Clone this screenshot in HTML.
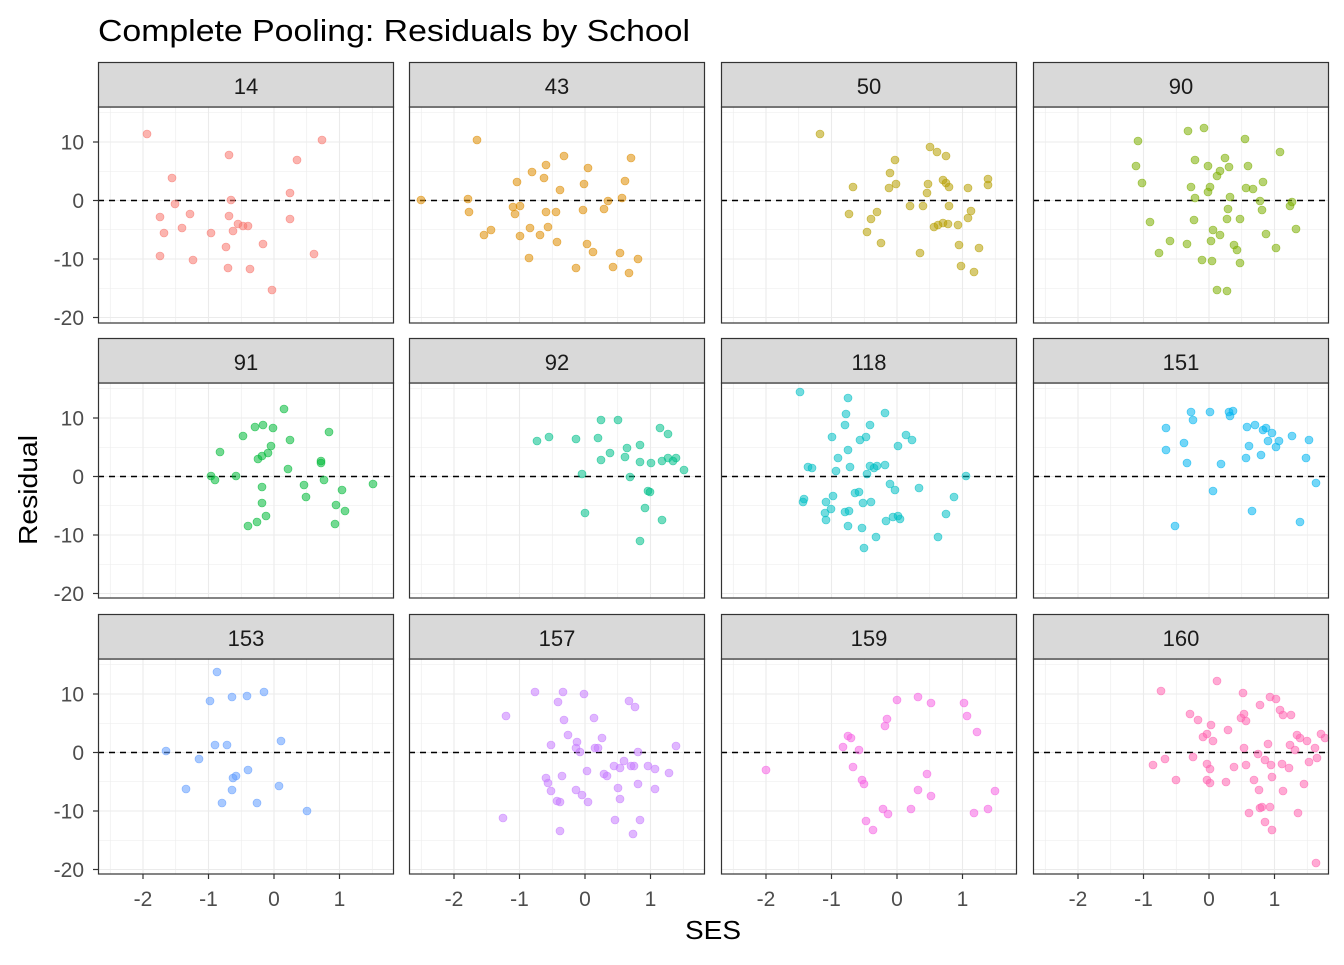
<!DOCTYPE html>
<html><head><meta charset="utf-8"><style>
html,body{margin:0;padding:0;background:#fff}
svg text{font-family:"Liberation Sans",Arial,sans-serif}
</style></head><body>
<svg id="s" width="1344" height="960" xmlns="http://www.w3.org/2000/svg">
<rect width="1344" height="960" fill="#fff"/>
<text x="98" y="41" font-size="31" fill="#000" textLength="592" lengthAdjust="spacingAndGlyphs">Complete Pooling: Residuals by School</text>
<text x="713" y="939" font-size="26" fill="#000" text-anchor="middle" textLength="56" lengthAdjust="spacingAndGlyphs">SES</text>
<text x="0" y="0" font-size="26" fill="#000" text-anchor="middle" transform="translate(37,490) rotate(-90)" textLength="110" lengthAdjust="spacingAndGlyphs">Residual</text>
<g id="g"></g>
</svg>
<script>
const NS="http://www.w3.org/2000/svg",g=document.getElementById('g');
function el(t,a,txt){const e=document.createElementNS(NS,t);for(const k in a)e.setAttribute(k,a[k]);if(txt!==undefined)e.textContent=txt;g.appendChild(e);return e;}
const cols=[98,409,721,1033],W=296;
const rows=[[62,107,323],[338,383,598],[614,659,874]];
const labels=["14","43","50","90","91","92","118","151","153","157","159","160"];
const colors=["#F8766D","#DE8C00","#B79F00","#7CAE00","#00BA38","#00C08B","#00BFC4","#00B4F0","#619CFF","#C77CFF","#F564E3","#FF64B0"];
const pts=[
[[147,134],[322,140],[229,155],[297,160],[172,178],[290,193],[231,200],[175,204],[160,217],[190,214],[229,216],[290,219],[238,224],[243,226],[248,226],[182,228],[164,233],[233,231],[211,233],[263,244],[226,247],[160,256],[193,260],[314,254],[228,268],[250,269],[272,290]],
[[477,140],[564,156],[631,158],[546,165],[532,172],[544,178],[588,168],[517,182],[625,181],[584,184],[560,190],[468,199],[421,200],[622,198],[513,207],[520,206],[608,201],[469,212],[515,214],[546,212],[556,212],[583,210],[604,209],[530,228],[491,230],[484,235],[520,236],[540,235],[548,227],[557,242],[587,244],[593,252],[620,253],[638,259],[529,258],[613,267],[576,268],[629,273]],
[[820,134],[930,147],[937,152],[946,156],[895,160],[890,173],[943,180],[946,183],[988,179],[988,185],[853,187],[896,184],[889,188],[928,184],[949,187],[968,188],[927,193],[910,206],[923,206],[949,206],[849,214],[877,212],[871,219],[971,211],[968,218],[943,223],[938,225],[948,224],[958,225],[934,227],[867,232],[881,243],[959,245],[979,248],[920,253],[961,266],[974,272]],
[[1204,128],[1188,131],[1138,141],[1245,139],[1280,152],[1225,158],[1195,160],[1248,166],[1208,166],[1229,167],[1136,166],[1220,171],[1217,176],[1142,183],[1191,187],[1210,187],[1246,188],[1253,189],[1263,182],[1208,192],[1230,197],[1195,198],[1260,201],[1292,202],[1290,206],[1228,209],[1227,219],[1262,210],[1150,222],[1194,220],[1240,219],[1213,230],[1220,235],[1266,234],[1296,229],[1211,241],[1170,241],[1187,244],[1234,245],[1237,250],[1276,248],[1159,253],[1202,260],[1212,261],[1240,263],[1217,290],[1227,291]],
[[284,409],[263,425],[255,427],[273,428],[329,432],[220,452],[290,440],[243,436],[271,446],[258,459],[262,456],[268,453],[321,461],[321,463],[211,476],[215,480],[236,476],[288,469],[324,480],[304,485],[262,487],[342,490],[373,484],[306,497],[336,505],[345,511],[266,516],[262,503],[257,522],[248,526],[335,524]],
[[601,420],[618,420],[549,437],[537,441],[576,439],[598,438],[660,428],[668,434],[640,445],[627,448],[610,453],[601,460],[625,457],[668,458],[673,461],[662,461],[651,463],[640,462],[684,470],[676,458],[582,474],[630,477],[648,491],[650,492],[645,508],[662,520],[585,513],[640,541]],
[[800,392],[848,398],[846,414],[885,413],[845,425],[870,425],[906,435],[912,440],[866,437],[832,437],[860,440],[898,446],[848,450],[838,458],[808,467],[812,468],[836,471],[850,467],[870,466],[874,468],[877,466],[885,465],[867,474],[966,476],[890,484],[919,488],[833,496],[855,493],[859,492],[895,490],[804,499],[803,502],[826,502],[863,503],[871,502],[849,511],[831,509],[845,512],[954,497],[893,517],[900,519],[862,528],[886,521],[826,520],[825,513],[898,516],[848,526],[876,537],[938,537],[864,548],[946,514]],
[[1175,526],[1191,412],[1229,412],[1233,411],[1230,416],[1210,412],[1247,427],[1255,425],[1266,428],[1272,433],[1263,430],[1268,441],[1279,441],[1292,436],[1309,440],[1166,428],[1184,443],[1193,420],[1166,450],[1249,446],[1261,455],[1246,458],[1276,447],[1306,458],[1187,463],[1221,464],[1316,483],[1213,491],[1252,511],[1300,522]],
[[217,672],[264,692],[210,701],[232,697],[247,696],[215,745],[227,745],[166,751],[281,741],[199,759],[236,776],[233,778],[248,770],[232,790],[186,789],[279,786],[222,803],[257,803],[307,811]],
[[535,692],[563,692],[584,694],[629,701],[635,707],[506,716],[558,702],[564,720],[594,718],[568,735],[577,742],[602,738],[551,745],[576,748],[595,748],[598,748],[580,752],[676,746],[638,752],[624,761],[614,766],[604,774],[607,776],[620,768],[631,766],[634,766],[648,766],[655,769],[669,773],[546,778],[562,776],[587,771],[548,783],[551,791],[576,790],[582,795],[618,788],[638,784],[655,789],[557,801],[560,802],[588,802],[620,799],[503,818],[560,831],[615,820],[640,820],[633,834]],
[[918,697],[897,700],[931,703],[964,703],[967,716],[887,719],[885,726],[977,732],[848,736],[851,738],[843,747],[859,750],[766,770],[853,767],[927,774],[862,780],[864,784],[918,790],[931,796],[995,791],[883,809],[888,814],[911,809],[866,821],[974,813],[988,809],[873,830]],
[[1161,691],[1217,681],[1243,693],[1270,697],[1276,699],[1260,705],[1280,710],[1283,715],[1291,715],[1190,714],[1198,720],[1211,725],[1244,714],[1241,718],[1246,721],[1207,734],[1203,737],[1213,741],[1228,730],[1297,735],[1300,738],[1307,741],[1321,734],[1325,738],[1315,748],[1290,745],[1295,750],[1244,748],[1268,744],[1258,754],[1317,758],[1309,762],[1165,759],[1153,765],[1193,757],[1207,764],[1210,769],[1246,765],[1234,767],[1265,760],[1271,765],[1282,764],[1289,768],[1176,780],[1207,780],[1210,783],[1226,782],[1254,780],[1272,777],[1259,790],[1304,784],[1283,791],[1249,813],[1260,808],[1262,807],[1265,822],[1272,830],[1298,813],[1270,807],[1316,863]]
];
const PXU=65.5, PY10=58.5;
for(let r=0;r<3;r++){
 const [st,pt,pb]=rows[r]; const y0=pt+93.5;
 for(let c=0;c<4;c++){
  const L=cols[c],x0=L+176,i=r*4+c;
  for(let v=-2.5;v<=1.5;v+=0.5){const x=x0+v*PXU;if(x<L||x>L+W)continue;el('line',{x1:x,x2:x,y1:pt,y2:pb,stroke:'#EBEBEB','stroke-width':Number.isInteger(v)?1.1:0.55});}
  for(let v=-20;v<=15;v+=5){const y=y0-v*PY10/10;if(y<pt||y>pb)continue;el('line',{x1:L,x2:L+W,y1:y,y2:y,stroke:'#EBEBEB','stroke-width':v%10===0?1.1:0.55});}
  el('line',{x1:L,x2:L+W,y1:y0,y2:y0,stroke:'#000','stroke-width':1.4,'stroke-dasharray':'6,5'});
  for(const p of pts[i]) el('circle',{cx:p[0],cy:p[1],r:4,fill:colors[i],'fill-opacity':0.55,stroke:colors[i],'stroke-opacity':0.75,'stroke-width':0.6});
  el('rect',{x:L+0.5,y:pt,width:W-1,height:pb-pt,fill:'none',stroke:'#333','stroke-width':1.2});
  el('rect',{x:L+0.5,y:st+0.5,width:W-1,height:pt-st-0.5,fill:'#D9D9D9',stroke:'#333','stroke-width':1.2});
  el('text',{x:L+W/2,y:st+32,'font-size':22,fill:'#1A1A1A','text-anchor':'middle'},labels[i]);
  if(c===0){for(const v of [10,0,-10,-20]){const y=y0-v*PY10/10;el('line',{x1:L-5,x2:L,y1:y,y2:y,stroke:'#333','stroke-width':1.2});el('text',{x:L-14,y:y+7.5,'font-size':21,fill:'#4D4D4D','text-anchor':'end'},String(v));}}
  if(r===2){for(const v of [-2,-1,0,1]){const x=x0+v*PXU;el('line',{x1:x,x2:x,y1:pb,y2:pb+5,stroke:'#333','stroke-width':1.2});el('text',{x:x,y:pb+32,'font-size':21,fill:'#4D4D4D','text-anchor':'middle'},String(v));}}
 }
}
</script>
</body></html>
